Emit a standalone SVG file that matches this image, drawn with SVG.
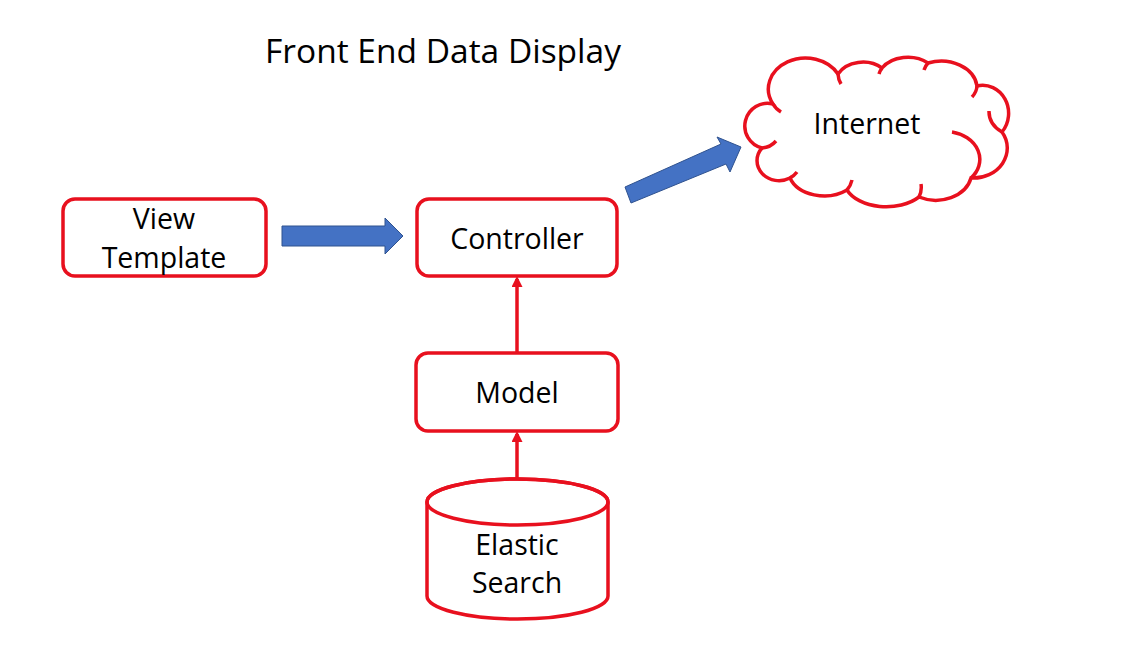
<svg xmlns="http://www.w3.org/2000/svg" width="1122" height="671" viewBox="0 0 1122 671">
<defs>
<style>
.box{fill:#fff;stroke:#E8101E;stroke-width:3.5}
.lbl{font-family:"Open Sans","Liberation Sans",sans-serif;font-size:28.5px;fill:#000;text-anchor:middle}
.blk{fill:#4472C4;stroke:#2F528F;stroke-width:1}
.con{stroke:#E8101E;stroke-width:3.5;fill:none}
</style>
<marker id="ah" markerWidth="11" markerHeight="11" refX="8" refY="5.5" orient="auto" markerUnits="userSpaceOnUse">
<path d="M0,0 L11,5.5 L0,11 Z" fill="#E8101E"/>
</marker>
</defs>
<rect width="1122" height="671" fill="#fff"/>
<text x="443" y="63" style="font-family:'Open Sans','Liberation Sans',sans-serif;font-size:33.5px;fill:#000;text-anchor:middle">Front End Data Display</text>

<g id="view-template">
<rect class="box" x="63" y="199" width="203" height="77" rx="12"/>
<text class="lbl" x="164" y="229">View</text>
<text class="lbl" x="164" y="268">Template</text>
</g>

<g id="controller">
<rect class="box" x="417" y="199" width="200" height="77" rx="12"/>
<text class="lbl" x="517" y="249">Controller</text>
</g>

<g id="model">
<rect class="box" x="416" y="353" width="202" height="78" rx="12"/>
<text class="lbl" x="517" y="403">Model</text>
</g>

<g id="elastic-search">
<path class="box" d="M427,502 L427,596 A90.5,23 0 0 0 608,596 L608,502 A90.5,23 0 0 0 427,502 Z"/>
<ellipse cx="517.5" cy="502" rx="90.5" ry="23" fill="none" stroke="#E8101E" stroke-width="3.5"/>
<text class="lbl" x="517" y="555">Elastic</text>
<text class="lbl" x="517" y="593">Search</text>
</g>

<g id="internet">
<path class="box" d="M762,148 A22,22 0 0 1 773,104 A36,30 0 0 1 838,74 A28,22 0 0 1 882,68 A30,22 0 0 1 928,63 A36,28 0 0 1 977,86 A26,28 0 0 1 1002,132 A34,30 0 0 1 971,178 A36,28 0 0 1 919,197 A42,26 0 0 1 847,190 A36,26 0 0 1 790,178 A22,20 0 0 1 762,148 Z"/>
<path d="M762,148 A20,18 0 0 0 776,141 M773,104 A25,20 0 0 0 781,112 M838,74 A30,25 0 0 0 841,84 M882,68 A25,20 0 0 0 879,74 M928,63 A25,20 0 0 0 924,70 M977,86 A25,20 0 0 1 972,97 M1002,132 A30,25 0 0 1 989,111 M971,178 A35,28 0 0 0 952,132 M919,197 A30,25 0 0 0 921,184 M847,190 A30,25 0 0 0 852,180 M790,178 A25,20 0 0 0 797,172" fill="none" stroke="#E8101E" stroke-width="3.5"/>
<text class="lbl" x="867" y="134">Internet</text>
</g>

<g id="connectors">
<path class="blk" d="M282,226 L385,226 L385,218 L403,236 L385,254 L385,246 L282,246 Z"/>
<path class="blk" d="M625,187 L721,144 L717,137 L741,147 L730,172 L726,164 L631,203 Z"/>
<line class="con" x1="517" y1="352" x2="517" y2="279" marker-end="url(#ah)"/>
<line class="con" x1="517" y1="479" x2="517" y2="434" marker-end="url(#ah)"/>
</g>
</svg>
